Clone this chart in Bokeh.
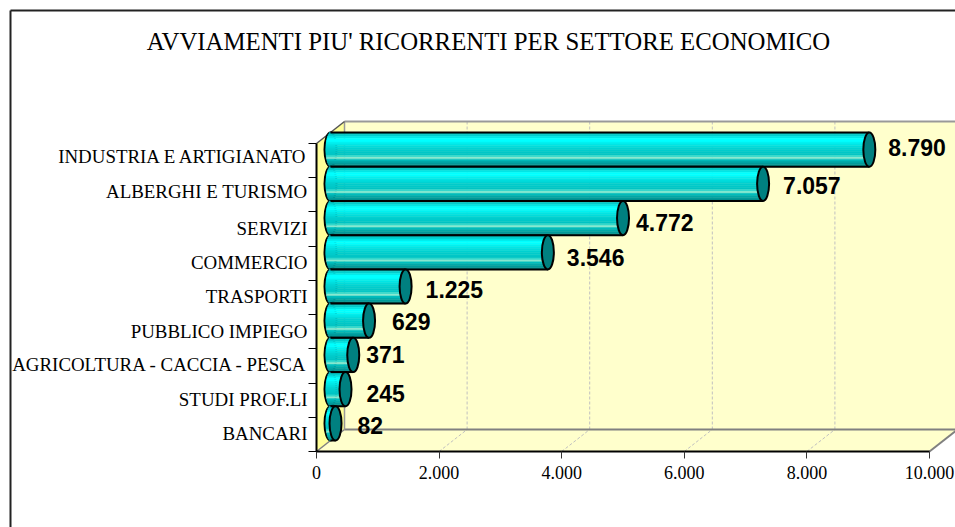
import math
from bokeh.plotting import figure
from bokeh.embed import file_html
from bokeh.resources import INLINE
from bokeh.core.properties import value
from bokeh.models import FixedTicker, ColumnDataSource, Range1d

categories = ["INDUSTRIA E ARTIGIANATO", "ALBERGHI E TURISMO", "SERVIZI", "COMMERCIO", "TRASPORTI",
              "PUBBLICO IMPIEGO", "AGRICOLTURA - CACCIA - PESCA", "STUDI PROF.LI", "BANCARI"]
values = [8790, 7057, 4772, 3546, 1225, 629, 371, 245, 82]
value_labels = ["8.790", "7.057", "4.772", "3.546", "1.225", "629", "371", "245", "82"]
x_ticks = [0, 2000, 4000, 6000, 8000, 10000]
x_tick_labels = ["0", "2.000", "4.000", "6.000", "8.000", "10.000"]
title = "AVVIAMENTI PIU' RICORRENTI PER SETTORE ECONOMICO"
# label nudges as placed in the source chart (px)
label_dx = [19, 20, 13, 19, 20, 23, 13, 21, 22]
label_dy = [-2, 2, 4, 5, 3, 1, 0, 4, 2]
axis_label_nudge = [4, 3, 1, 1, 1, 0, 1, 1, 1]

W, H = 955, 527
PX_X = 61.3 / 1000      # px per unit
PX_Y = 34.22            # px per category
X0, Y0 = 316, 451       # axis origin inside the canvas
xs = Range1d(-X0 / PX_X, (W - X0) / PX_X)
ys = Range1d(0.5 - (H - Y0) / PX_Y, 0.5 + Y0 / PX_Y)
DX = 28 / PX_X          # chart depth in data units
DY = 22 / PX_Y
XMAX = x_ticks[-1]
YLO, YHI = 0.5, len(categories) + 0.5
FONT = "Liberation Serif"

p = figure(width=W, height=H, x_range=xs, y_range=ys, output_backend="svg", toolbar_location=None,
           min_border=0, outline_line_color=None, background_fill_color="white")
p.grid.visible = False

# outer chart border (continues past the crop on the right and at the bottom)
bx, by = -(X0 - 10) / PX_X, 0.5 + (Y0 - 10) / PX_Y
p.line([bx, xs.end], [by, by], line_color="#222222", line_width=2)
p.line([bx, bx], [by, ys.start], line_color="#222222", line_width=2)

# walls
LEFT, BACK = "#FFFF99", "#FFFFCC"
p.patch([0, DX, DX, 0], [YLO, YLO + DY, YHI + DY, YHI], fill_color=LEFT, line_color=None)
p.patch([DX, XMAX + DX, XMAX + DX, DX], [YLO + DY, YLO + DY, YHI + DY, YHI + DY], fill_color=BACK, line_color=None)
p.patch([0, XMAX, XMAX + DX, DX], [YLO, YLO, YLO + DY, YLO + DY], fill_color=BACK, line_color=None)
for t in x_ticks[1:-1]:
    p.line([t + DX, t + DX], [YLO + DY, YHI + DY], line_color="#C0C0C0", line_dash="3 2")
    p.line([t, t + DX], [YLO, YLO + DY], line_color="#C0C0C0", line_dash="3 2")
p.line([DX, XMAX + DX], [YHI + DY, YHI + DY], line_color="#999999", line_width=2)
p.line([DX, XMAX + DX], [YLO + DY, YLO + DY], line_color="#808080", line_width=2)
p.line([DX, DX], [YLO + DY, YHI + DY], line_color="#999999", line_width=1.5)
p.line([XMAX, XMAX + DX], [YLO, YLO + DY], line_color="#808080", line_width=2)
p.line([0, DX], [YLO, YLO + DY], line_color="#808080", line_width=1.5)
p.line([0, DX], [YHI, YHI + DY], line_color="#555555", line_width=1.5)

# cylinders: horizontal shading stripes (top to bottom)
stripes = ["#00B4B4", "#00CCCC", "#00E6E6", "#00FFFF", "#00FFFF", "#00F0F0", "#00E6E6", "#00DCDC", "#00D2D2",
           "#00CCCC", "#00C8C8", "#00C4C4", "#33D8CC", "#88E8D0", "#00BEBE", "#00AAAA", "#009C9C", "#008E8E"]
n = len(categories)
ymid = [n - i for i in range(n)]
BAR_H = 1.0
cx = [v + DX / 2 for v in values]
base = DX / 2
cy = [y + DY / 2 for y in ymid]
EW = 12 / PX_X
m = len(stripes)
for i in range(n):
    # only the left half of this outline stays visible: the stripes cover the rest
    p.ellipse(base, cy[i], width=EW, height=BAR_H, fill_color="#00E0E0", line_color="black", line_width=2)
    for k, col in enumerate(stripes):
        u = 1 - 2 * (k + 0.5) / m
        p.quad(left=base - (EW / 2 - 1.5 / PX_X) * math.sqrt(1 - u * u), right=cx[i],
               top=cy[i] + BAR_H / 2 - BAR_H * k / m, bottom=cy[i] + BAR_H / 2 - BAR_H * (k + 1) / m,
               fill_color=col, line_color=col, line_width=0.5)
    p.segment([base, base], [cy[i] + BAR_H / 2, cy[i] - BAR_H / 2], [cx[i], cx[i]],
              [cy[i] + BAR_H / 2, cy[i] - BAR_H / 2], line_color="black", line_width=2)
    p.ellipse(cx[i], cy[i], width=EW, height=BAR_H, fill_color="#008080", line_color="black", line_width=2)

src = ColumnDataSource(dict(x=cx, y=cy, t=value_labels, dx=label_dx, dy=label_dy))
p.text("x", "y", text="t", source=src, x_offset="dx", y_offset="dy", text_font=value("Liberation Sans"),
       text_font_size="23px", text_font_style="bold", text_color="black", text_baseline="middle", text_align="left")

p.text([(488 - X0) / PX_X], [0.5 + (Y0 - 41) / PX_Y], text=[title], text_font=value(FONT),
       text_font_size="24.8px", text_color="black", text_align="center", text_baseline="middle")

# axes placed at the chart origin
ax = p.xaxis[0]
ax.fixed_location = YLO
ax.bounds = (0, XMAX)
ax.ticker = FixedTicker(ticks=x_ticks)
ax.major_label_overrides = dict(zip(x_ticks, x_tick_labels))
ax.major_label_text_font = FONT
ax.major_label_text_font_size = "18px"
ax.major_label_text_color = "black"
ax.major_tick_in = 0
ax.major_tick_out = 7
ax.major_tick_line_color = "#333333"
ax.minor_tick_line_color = None
ax.axis_line_color = "black"
ax.axis_line_width = 2
ax.major_label_standoff = 7

label_ticks = [y + d / PX_Y for y, d in zip(ymid, axis_label_nudge)]
ay = p.yaxis[0]
ay.fixed_location = 0
ay.bounds = (YLO, YHI)
ay.ticker = FixedTicker(ticks=label_ticks, minor_ticks=[YLO + i for i in range(n + 1)])
ay.major_label_overrides = dict(zip(label_ticks, categories))
ay.major_label_text_font = FONT
ay.major_label_text_font_size = "18.9px"
ay.major_label_text_color = "black"
ay.major_tick_in = 0
ay.major_tick_out = 0
ay.minor_tick_in = 0
ay.minor_tick_out = 8
ay.minor_tick_line_color = "black"
ay.axis_line_color = "black"
ay.axis_line_width = 2
ay.major_label_standoff = 1

open("out.html", "w").write(file_html(p, INLINE))
